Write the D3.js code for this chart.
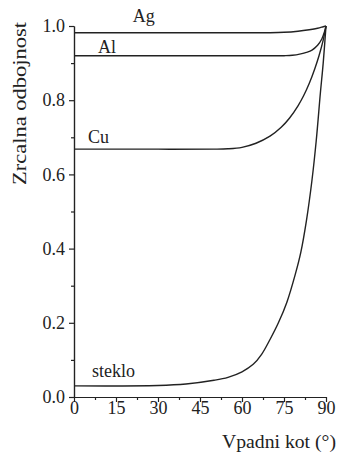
<!DOCTYPE html>
<html>
<head>
<meta charset="UTF-8">
<script src="https://d3js.org/d3.v7.min.js"></script>
<style>
  body { margin: 0; background: #fff; }
  svg { display: block; }
  .axis path, .axis line { stroke: #222; stroke-width: 1.2px; }
  .curve { fill: none; stroke: #222; stroke-width: 1.4px; }
</style>
</head>
<body>
<svg id="chart" width="338" height="453"></svg>
<script>
// angle of incidence (deg) and specular reflectance
const agAngle = [0, 30, 60, 70, 75, 80, 84, 87, 89, 90];
const agValue = [0.982, 0.982, 0.982, 0.982, 0.983, 0.986, 0.99, 0.994, 0.998, 1.0];

const alAngle = [0, 30, 60, 75, 78, 81, 83, 85, 87, 88.5, 89.5, 90];
const alValue = [0.920, 0.920, 0.920, 0.920, 0.921, 0.925, 0.929, 0.935, 0.948, 0.965, 0.985, 1.0];

const cuAngle = [0, 30, 50, 55, 60, 65, 70, 74, 77, 80, 82, 84, 86, 87.5, 89, 90];
const cuValue = [0.668, 0.668, 0.668, 0.669, 0.673, 0.684, 0.703, 0.727, 0.752, 0.785, 0.812, 0.845, 0.885, 0.92, 0.962, 1.0];

const glassAngle = [0, 30, 40, 50, 55, 60, 64, 67, 70, 73, 76, 79, 81, 83, 85, 86.5, 88, 89, 90];
const glassValue = [0.030, 0.031, 0.035, 0.045, 0.053, 0.068, 0.088, 0.115, 0.155, 0.2, 0.255, 0.33, 0.39, 0.475, 0.585, 0.69, 0.82, 0.9, 1.0];

const seriesNames = ["Ag", "Al", "Cu", "steklo"];
// label anchor (angle, value) for each series name
const labelAngle = [21, 8.6, 5, 6.4];
const labelValue = [1.011, 0.927, 0.685, 0.054];

const xTicks = [0, 15, 30, 45, 60, 75, 90];
const xMinor = [7.5, 22.5, 37.5, 52.5, 67.5, 82.5];
const yTicks = [0.0, 0.2, 0.4, 0.6, 0.8, 1.0];
const yMinor = [0.1, 0.3, 0.5, 0.7, 0.9];

const xTitle = "Vpadni kot (°)";
const yTitle = "Zrcalna odbojnost";

const FONT = "'Liberation Serif', 'Times New Roman', serif";

const svg = d3.select("#chart");

const x = d3.scaleLinear().domain([0, 90]).range([74, 326]);
const y = d3.scaleLinear().domain([0, 1]).range([397, 26]);

// minor ticks first so the major axis draws over them
svg.append("g")
  .attr("class", "axis")
  .attr("transform", `translate(0,${y(0)})`)
  .call(d3.axisBottom(x).tickValues(xMinor).tickSize(3).tickSizeOuter(0).tickFormat(""));

svg.append("g")
  .attr("class", "axis")
  .attr("transform", `translate(${x(0)},0)`)
  .call(d3.axisLeft(y).tickValues(yMinor).tickSize(3).tickSizeOuter(0).tickFormat(""));

const xAxis = svg.append("g")
  .attr("class", "axis")
  .attr("transform", `translate(0,${y(0)})`)
  .call(d3.axisBottom(x).tickValues(xTicks).tickSize(5).tickSizeOuter(0).tickPadding(-1).tickFormat(d3.format("d")));

const yAxis = svg.append("g")
  .attr("class", "axis")
  .attr("transform", `translate(${x(0)},0)`)
  .call(d3.axisLeft(y).tickValues(yTicks).tickSize(5).tickSizeOuter(0).tickPadding(4).tickFormat(d3.format(".1f")));

[xAxis, yAxis].forEach(g => g.selectAll("text")
  .style("font-family", FONT)
  .style("font-size", "18px")
  .style("fill", "#222"));

const series = [
  d3.zip(agAngle, agValue),
  d3.zip(alAngle, alValue),
  d3.zip(cuAngle, cuValue),
  d3.zip(glassAngle, glassValue)
];

const line = d3.line()
  .x(d => x(d[0]))
  .y(d => y(d[1]))
  .curve(d3.curveCatmullRom.alpha(0.5));

svg.append("g")
  .selectAll("path")
  .data(series)
  .join("path")
  .attr("class", "curve")
  .attr("d", line);

svg.append("g")
  .selectAll("text")
  .data(seriesNames)
  .join("text")
  .attr("x", (d, i) => x(labelAngle[i]))
  .attr("y", (d, i) => y(labelValue[i]))
  .style("font-family", FONT)
  .style("font-size", "18px")
  .style("fill", "#222")
  .text(d => d);

svg.append("text")
  .attr("x", 336)
  .attr("y", 448)
  .attr("text-anchor", "end")
  .attr("textLength", 114)
  .attr("lengthAdjust", "spacingAndGlyphs")
  .style("font-family", FONT)
  .style("font-size", "18px")
  .style("fill", "#222")
  .text(xTitle);

svg.append("text")
  .attr("transform", "translate(26,185) rotate(-90)")
  .attr("textLength", 163)
  .attr("lengthAdjust", "spacingAndGlyphs")
  .style("font-family", FONT)
  .style("font-size", "18px")
  .style("fill", "#222")
  .text(yTitle);
</script>
</body>
</html>
